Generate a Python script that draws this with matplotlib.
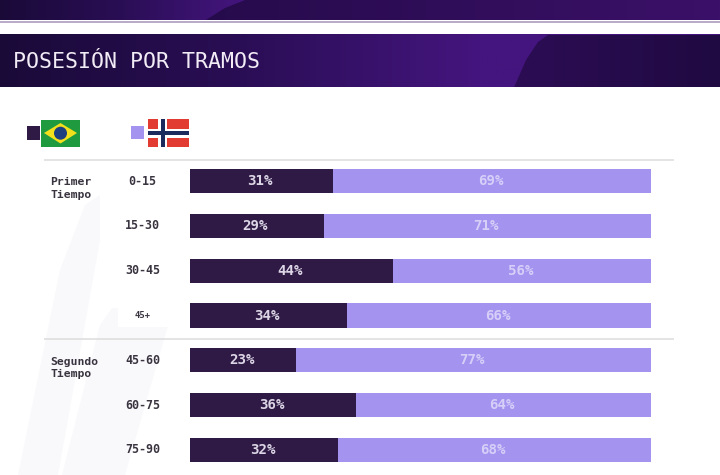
import numpy as np
import matplotlib
matplotlib.use("Agg")
import matplotlib.pyplot as plt
from matplotlib.patches import Rectangle, Polygon, Ellipse
from matplotlib.colors import LinearSegmentedColormap

tramos = ["0-15", "15-30", "30-45", "45+", "45-60", "60-75", "75-90"]
brasil = [31, 29, 44, 34, 23, 36, 32]
noruega = [69, 71, 56, 66, 77, 64, 68]
periodos = ["Primer\nTiempo", "Segundo\nTiempo"]
titulo = "POSESIÓN POR TRAMOS"

DARK = "#2f1a45"
LILAC = "#a593f0"
MONO = "DejaVu Sans Mono"
W, H = 720, 475

fig = plt.figure(figsize=(7.2, 4.75), dpi=100, facecolor="white")
bg = fig.add_axes([0, 0, 1, 1])
bg.axis("off")

# faint background slashes
bg.add_patch(Polygon([(18, 475), (60, 270), (85, 205), (100, 195), (100, 240), (58, 475)], fc="#f9f8fb", ec="none", zorder=0))
bg.add_patch(Polygon([(62, 475), (100, 325), (112, 308), (172, 312), (125, 475)], fc="#f9f8fb", ec="none", zorder=0))
bg.add_patch(Rectangle((118, 305), 55, 22, fc="white", ec="none", zorder=1))

# banners
grad = np.linspace(0, 1, 256).reshape(1, -1)
left = LinearSegmentedColormap.from_list("l", ["#1a0a38", "#2a0e55", "#44157e"])
right_low = LinearSegmentedColormap.from_list("r1", ["#2c0d55", "#200a42"])
right_top = LinearSegmentedColormap.from_list("r2", ["#260b4c", "#3b1068"])


def banner(x0, x1, y0, y1, cmap, clip=None):
    im = bg.imshow(grad, extent=(x0, x1, y1, y0), cmap=cmap, aspect="auto", zorder=2)
    if clip is not None:
        p = Polygon(clip, transform=bg.transData, fc="none", ec="none")
        bg.add_patch(p)
        im.set_clip_path(p)


banner(0, 720, 35, 87.5, LinearSegmentedColormap.from_list("l2", ["#1a0a38", "#2a0e55", "#44157e", "#44157e"]))
banner(510, 720, 35, 87.5, right_low, [(514, 87.5), (526, 60), (538, 42), (548, 35), (720, 35), (720, 87.5)])
banner(0, 245, 0, 20.5, left)
banner(205, 720, 0, 20.5, right_top, [(205, 20.5), (225, 8), (245, 0), (720, 0), (720, 20.5)])
bg.add_patch(Rectangle((0, 20.5), 720, 2, fc="#b9acc8", ec="none", zorder=2))
bg.set_xlim(0, W)
bg.set_ylim(H, 0)
bg.text(13, 62, titulo, color="#f1ecf6", family=MONO, fontsize=15.5, va="center", ha="left", zorder=4)

# legend squares and flags
bg.add_patch(Rectangle((26.5, 126), 13.5, 13.5, fc=DARK, ec="none"))
bg.add_patch(Rectangle((131, 126), 13, 13, fc=LILAC, ec="none"))
bg.add_patch(Rectangle((41, 120), 39, 26.5, fc="#1f9a3e", ec="none"))
bg.add_patch(Polygon([(44, 133), (60.5, 123), (77, 133), (60.5, 143.5)], fc="#f3e01c", ec="none"))
bg.add_patch(Ellipse((60.5, 133.2), 13, 13, fc="#1d3f80", ec="none"))
bg.add_patch(Rectangle((148, 119), 41, 28, fc="#e23b32", ec="none"))
bg.add_patch(Rectangle((158, 119), 9, 28, fc="white", ec="none"))
bg.add_patch(Rectangle((148, 128.5), 41, 9, fc="white", ec="none"))
bg.add_patch(Rectangle((160.5, 119), 4, 28, fc="#1b2a5c", ec="none"))
bg.add_patch(Rectangle((148, 131), 41, 4, fc="#1b2a5c", ec="none"))

# separators
bg.plot([44, 674], [160, 160], color="#dcdcdc", lw=1.1, solid_capstyle="butt")
bg.plot([44, 674], [338.5, 338.5], color="#dcdcdc", lw=1.1, solid_capstyle="butt")

# period labels
bg.text(50.5, 188.5, periodos[0], color="#3a3440", family=MONO, fontweight="bold", fontsize=8.2, va="center", ha="left", linespacing=1.35)
bg.text(50.5, 368, periodos[1], color="#3a3440", family=MONO, fontweight="bold", fontsize=8.2, va="center", ha="left", linespacing=1.35)

# chart
top, bottom = 158.6, 472.4
ax = fig.add_axes([190 / W, 1 - bottom / H, 461 / W, (bottom - top) / H])
ax.patch.set_alpha(0)
y = np.arange(len(tramos))
ax.barh(y, brasil, height=24 / 44.8, color=DARK)
ax.barh(y, noruega, left=brasil, height=24 / 44.8, color=LILAC)
ax.set_xlim(0, 100)
ax.set_ylim(6.5, -0.5)
ax.axis("off")
for i, (b, n) in enumerate(zip(brasil, noruega)):
    ax.text(b / 2 - 0.3, i, f"{b}%", color="#dcd6e6", family=MONO, fontweight="bold", fontsize=10.2, ha="center", va="center")
    ax.text(b + n / 2 - 0.3, i, f"{n}%", color="#d6cff8", family=MONO, fontweight="bold", fontsize=10.2, ha="center", va="center")
    ax.text(-(190 - 142.5) / 4.61, i, tramos[i], color="#3a3440", family=MONO, fontweight="bold",
            fontsize=6.4 if tramos[i] == "45+" else 8.4, ha="center", va="center")

fig.savefig("out.png", dpi=100)
